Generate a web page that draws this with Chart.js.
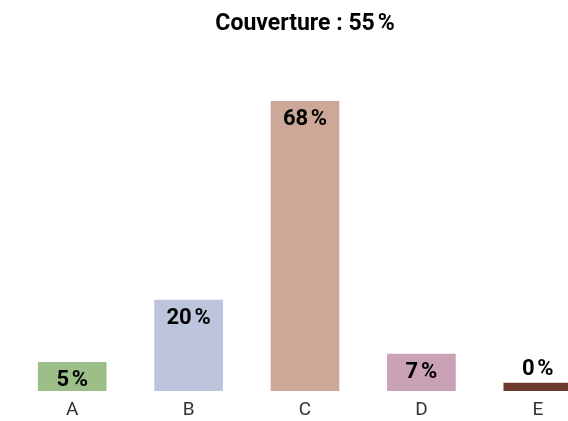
<!DOCTYPE html>
<html>
<head>
<meta charset="utf-8">
<script src="https://cdn.jsdelivr.net/npm/chart.js@4/dist/chart.umd.min.js"></script>
<style>
  html, body { margin: 0; padding: 0; background: #fff; overflow: hidden; }
  #wrap { width: 610px; height: 421px; }
</style>
</head>
<body>
<div id="wrap"><canvas id="myChart" width="610" height="421"></canvas></div>
<script>
// les données
const categories = ["A", "B", "C", "D", "E"];
const valeurs = [5, 20, 68, 7, 0];
const couleurs = ['#9cbf8a', '#bcc5db', '#cda899', '#c9a3b5', '#6e3a2d'];
const couverture = 55;

// étiquettes en haut des barres
const etiquettes = {
    id: 'etiquettes',
    afterDatasetsDraw(chart) {
        const c = chart.ctx;
        const meta = chart.getDatasetMeta(0);
        c.save();
        c.font = 'bold 22px Roboto';
        c.fillStyle = '#000';
        c.textAlign = 'center';
        c.textBaseline = 'middle';
        meta.data.forEach((bar, i) => {
            const h = bar.base - bar.y;
            const y = h > 25 ? bar.y + 18.5 : bar.y - 13.5;
            c.fillText(valeurs[i] + '\u202F%', bar.x, y);
        });
        c.restore();
    }
};

let ctx = document.getElementById('myChart').getContext('2d');
let chart = new Chart(ctx, {
    type: 'bar',
    data: {
        labels: categories,
        datasets: [{
            data: valeurs,
            base: -2,
            backgroundColor: couleurs,
            borderWidth: 0,
            barPercentage: 0.59,
            categoryPercentage: 1
        }]
    },
    options: {
        responsive: false,
        animation: false,
        layout: { padding: { left: 14, right: 14, top: 0, bottom: 0 } },
        plugins: {
            legend: { display: false },
            tooltip: { enabled: false },
            title: {
                display: true,
                text: 'Couverture : ' + couverture + '\u202F%',
                color: '#000',
                font: { family: 'Roboto', size: 23, weight: 'bold' },
                padding: { top: 10, bottom: 63.4 }
            }
        },
        scales: {
            x: {
                grid: { display: false, drawTicks: false },
                border: { display: false },
                ticks: { color: '#333', font: { family: 'Roboto', size: 19 }, padding: 8 },
                afterFit(scale) { scale.height = 30; }
            },
            y: {
                display: false,
                min: -2,
                max: 68
            }
        }
    },
    plugins: [etiquettes]
});
</script>
</body>
</html>
